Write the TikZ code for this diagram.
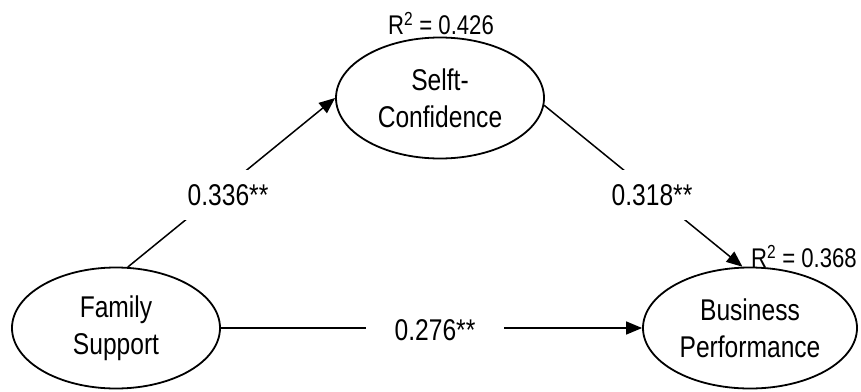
\documentclass[tikz,border=0pt]{standalone}
\usepackage{fontspec}
\setmainfont{Liberation Sans}[FakeStretch=0.82]
\usetikzlibrary{shapes.geometric,arrows.meta}
\begin{document}
\begin{tikzpicture}[x=1pt,y=-1pt,
  every node/.style={font=\fontsize{30}{37}\selectfont},
  construct/.style={ellipse,draw,line width=1.8pt,inner sep=0pt,align=center,
    minimum width=208pt,minimum height=121pt},
  path/.style={line width=1.5pt,-{Triangle[length=16pt,width=13pt]}},
  coef/.style={fill=white,inner xsep=29pt,inner ysep=14pt},
  rsq/.style={inner sep=0pt,font=\fontsize{27}{32}\selectfont}]
\useasboundingbox (0,0) rectangle (861,391);
\node[construct] (sc) at (440,98) {Selft-\\Confidence};
\node[construct] (fs) at (116,328) {Family\\Support};
\node[construct,minimum width=214pt] (bp) at (750,328) {Business\\Performance};
\draw[path] (fs.79) -- (sc.west);
\draw[path] (sc.-4) -- (bp.97);
\draw[path] (fs.east) -- (bp.west);
\node[coef] (l1) at (228,195) {0.336**};
\node[coef] (l2) at (652,195) {0.318**};
\node[coef] (l3) at (435,330) {0.276**};
\node[rsq] (r1) at (441,24) {R\textsuperscript{2} = 0.426};
\node[rsq,anchor=east] (r2) at (857,257) {R\textsuperscript{2} = 0.368};
\end{tikzpicture}
\end{document}
